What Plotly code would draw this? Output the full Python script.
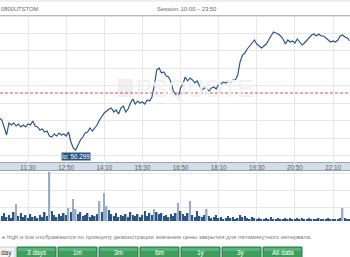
import plotly.graph_objects as go
import pandas as pd

# ---- data (5-minute closes) ----
prices = [50.62, 50.60, 50.53, 50.45, 50.57, 50.55, 50.57, 50.54, 50.56, 50.53,
          50.55, 50.53, 50.56, 50.55, 50.59, 50.54, 50.53, 50.50, 50.51, 50.48,
          50.49, 50.44, 50.43, 50.46, 50.44, 50.47, 50.45, 50.46, 50.44, 50.48,
          50.38, 50.32, 50.299, 50.35, 50.40, 50.43, 50.47, 50.48, 50.52, 50.49,
          50.52, 50.55, 50.60, 50.64, 50.67, 50.69, 50.71, 50.72, 50.68, 50.70,
          50.66, 50.72, 50.74, 50.68, 50.71, 50.77, 50.81, 50.76, 50.79, 50.77,
          50.78, 50.76, 50.80, 50.79, 50.83, 50.94, 51.10, 51.12, 51.07, 51.08,
          51.04, 51.03, 50.98, 50.89, 50.85, 50.82, 50.92, 50.96, 51.03, 50.99,
          51.02, 51.00, 50.97, 50.99, 50.94, 50.90, 50.92, 50.91, 50.89, 50.92,
          50.93, 50.91, 50.96, 50.96, 50.98, 50.97, 50.99, 50.97, 51.00, 51.00,
          51.05, 51.18, 51.25, 51.27, 51.31, 51.34, 51.38, 51.40, 51.36, 51.34,
          51.32, 51.34, 51.36, 51.40, 51.44, 51.48, 51.47, 51.46, 51.44, 51.41,
          51.36, 51.40, 51.38, 51.39, 51.37, 51.41, 51.38, 51.35, 51.37, 51.40,
          51.43, 51.45, 51.46, 51.44, 51.46, 51.44, 51.44, 51.42, 51.40, 51.38,
          51.39, 51.38, 51.40, 51.44, 51.45, 51.43, 51.42, 51.39]

volumes = [300, 500, 800, 400, 600, 300, 900, 1700, 500, 800,
           400, 600, 300, 700, 400, 500, 300, 600, 400, 900,
           500, 4900, 1000, 600, 400, 700, 500, 800, 600, 1300,
           900, 2200, 1200, 700, 900, 500, 600, 800, 400, 600,
           500, 700, 2000, 900, 2800, 1500, 1100, 700, 500, 800,
           400, 600, 500, 700, 400, 900, 600, 500, 700, 400,
           600, 1000, 500, 800, 600, 1200, 900, 700, 800, 500,
           600, 400, 700, 500, 800, 1800, 1000, 700, 500, 800,
           2000, 600, 400, 1000, 500, 400, 600, 1200, 500, 300,
           400, 600, 300, 400, 200, 300, 500, 300, 400, 200,
           300, 600, 400, 500, 300, 200, 400, 300, 200, 300,
           200, 200, 300, 200, 400, 200, 200, 300, 200, 200,
           300, 200, 300, 200, 200, 300, 200, 300, 200, 200,
           300, 200, 200, 200, 300, 200, 200, 200, 300, 200,
           200, 200, 200, 300, 1300, 300, 200, 200]

prev_close = 50.87
low_label = "lo: 50.299"
symbol = "0800UTSTOM"
session = "Session: 10:00 – 23:50"
note = "e high и low отображаются по принципу демонстрации значения цены закрытия для пятиминутного интервала."
buttons = ["day", "3 days", "1m", "3m", "6m", "1y", "3y", "All data"]

times = pd.date_range("2024-01-01 10:30", periods=len(prices), freq="5min")

H = 257.0
W = 350.0
def py(y):
    return 1 - y / H
def px(x):
    return x / W

LINE = "#2b5687"
GRID = "#e8e8e8"
FONT = "Liberation Sans"

fig = go.Figure()
fig.add_trace(go.Scatter(x=times, y=prices, mode="lines",
                         line=dict(color=LINE, width=1.2), xaxis="x", yaxis="y",
                         hoverinfo="skip"))
vcolors = ["#97acc8" if v >= 1200 else LINE for v in volumes]
fig.add_trace(go.Bar(x=times, y=volumes, marker=dict(color=vcolors, line=dict(width=0)),
                     xaxis="x2", yaxis="y2", hoverinfo="skip"))

xr = ["2024-01-01 10:31:15", "2024-01-01 22:45:36"]
common_x = dict(range=xr, type="date", tick0="2024-01-01 11:30", dtick=80 * 60 * 1000,
                showgrid=True, gridcolor=GRID, gridwidth=1, zeroline=False, showline=False)

shapes = []
annotations = []

# axis band between panels
shapes.append(dict(type="rect", xref="paper", yref="paper", x0=-0.01, x1=1.01,
                   y0=py(170.5), y1=py(162.5), fillcolor="#d5dde7",
                   line=dict(color="#97a6b8", width=1), layer="below"))
# header
shapes.append(dict(type="rect", xref="paper", yref="paper", x0=-0.01, x1=1.01,
                   y0=py(2), y1=py(-1), fillcolor="#eeeeee", line=dict(width=0)))
shapes.append(dict(type="line", xref="paper", yref="paper", x0=-0.01, x1=1.01,
                   y0=py(15.5), y1=py(15.5), line=dict(color="#b8b8b8", width=1)))
shapes.append(dict(type="line", xref="paper", yref="paper", x0=-0.01, x1=1.01,
                   y0=py(16.5), y1=py(16.5), line=dict(color="#e4e4e4", width=1)))
annotations.append(dict(text=symbol, xref="paper", yref="paper", x=px(-1), y=py(9),
                        xanchor="left", yanchor="middle", showarrow=False,
                        font=dict(family=FONT, size=5.8, color="#666666")))
annotations.append(dict(text=session, xref="paper", yref="paper", x=px(155), y=py(9),
                        xanchor="left", yanchor="middle", showarrow=False,
                        font=dict(family=FONT, size=5.8, color="#666666")))

# previous close dashed line
shapes.append(dict(type="line", xref="paper", yref="y", x0=0, x1=1, y0=prev_close, y1=prev_close,
                   line=dict(color="#e24a4a", width=1, dash="3px,2px")))

# watermark
shapes.append(dict(type="rect", xref="paper", yref="paper", x0=px(118), x1=px(133),
                   y0=py(97), y1=py(79), fillcolor="#efefef", line=dict(width=0), layer="below"))
annotations.append(dict(text="PSQUOTE", xref="paper", yref="paper", x=px(134), y=py(88),
                        xanchor="left", yanchor="middle", showarrow=False,
                        font=dict(family=FONT, size=24, color="#f0f0f0")))

# low label
imin = prices.index(min(prices))
annotations.append(dict(text=low_label, x=times[imin], y=prices[imin], xref="x", yref="y",
                        xanchor="center", yanchor="top", yshift=-2, showarrow=False,
                        bgcolor="#2d5583", borderpad=0,
                        font=dict(family=FONT, size=6.3, color="white")))

# note text
annotations.append(dict(text=note, xref="paper", yref="paper", x=px(0), y=py(236.5),
                        xanchor="left", yanchor="middle", showarrow=False,
                        font=dict(family=FONT, size=6.0, color="#7a7a7a")))

# buttons
for k, lab in enumerate(buttons):
    if k == 0:
        x0, x1 = -25, 15
        fill, border, tc = "#f3f3f3", "#c8c8c8", "#333333"
    else:
        x0 = 17 + 41 * (k - 1)
        x1 = x0 + 39
        fill, border, tc = "#3f9e5e", "#2d7d47", "white"
    shapes.append(dict(type="rect", xref="paper", yref="paper", x0=px(x0), x1=px(x1),
                       y0=py(262), y1=py(247), fillcolor=fill, line=dict(color=border, width=1)))
    if k > 0:
        shapes.append(dict(type="rect", xref="paper", yref="paper", x0=px(x0 + 1), x1=px(x1 - 1),
                           y0=py(251), y1=py(248), fillcolor="#5cb578", line=dict(width=0)))
    cx = (x0 + x1) / 2 if k > 0 else 6
    annotations.append(dict(text=lab, xref="paper", yref="paper", x=px(cx), y=py(252.5),
                            xanchor="center", yanchor="middle", showarrow=False,
                            font=dict(family=FONT, size=6.5, color=tc)))

fig.update_layout(
    width=350, height=257, margin=dict(l=0, r=0, t=0, b=0),
    paper_bgcolor="white", plot_bgcolor="white", showlegend=False,
    bargap=0.35,
    xaxis=dict(domain=[0, 1], anchor="y", ticks="",
               tickformat="%H:%M", tickfont=dict(family=FONT, size=6.3, color="#666666"),
               showticklabels=True, **common_x),
    yaxis=dict(domain=[py(163), py(16.5)], range=[50.17, 51.635], tick0=51.47, dtick=0.175,
               showgrid=True, gridcolor=GRID, zeroline=False, showticklabels=False, ticks=""),
    xaxis2=dict(domain=[0, 1], anchor="y2", showticklabels=False, ticks="", **common_x),
    yaxis2=dict(domain=[py(221), py(171)], range=[0, 5000], tick0=1400, dtick=1700,
                showgrid=True, gridcolor=GRID, zeroline=False, showticklabels=False, ticks=""),
    shapes=shapes, annotations=annotations,
)

fig.write_html("out.html")
